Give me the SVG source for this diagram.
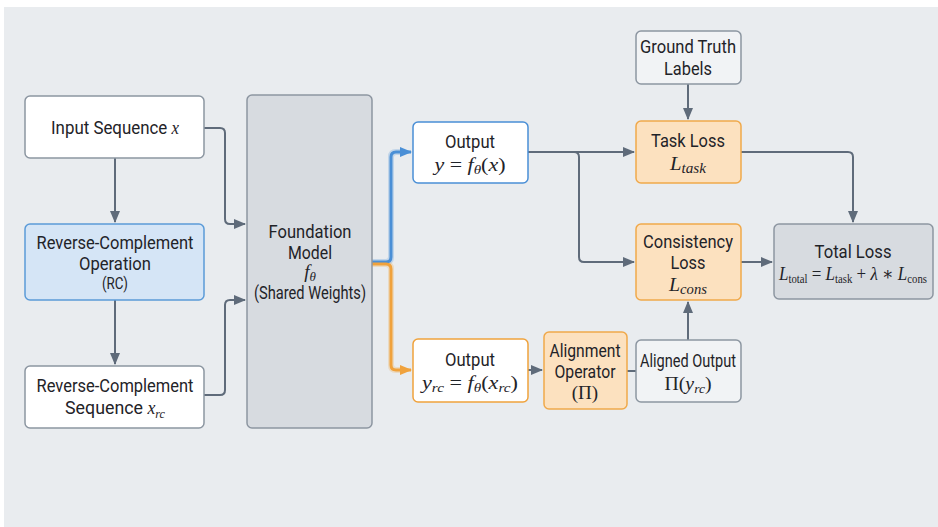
<svg xmlns="http://www.w3.org/2000/svg" width="938" height="527" viewBox="0 0 938 527">
<style>
.lbl{font-family:Roboto,"Liberation Sans",sans-serif;font-size:19px;fill:#1f2328;text-anchor:middle}
.sm{font-size:17px}
.m{font-family:"Liberation Serif","DejaVu Serif",serif;font-style:italic}
.up{font-style:normal}
.node{stroke-width:1.5}
.wht{fill:#ffffff;stroke:#8c96a1}
.org{fill:#fce1bf;stroke:#f0a94b}
.gry{fill:#d7dbe0;stroke:#8d96a1}
.lgt{fill:#f1f3f5;stroke:#8c96a1}
.conn{fill:none;stroke:#5f6b7a;stroke-width:2}
</style>
<defs>
<marker id="ah" markerUnits="userSpaceOnUse" markerWidth="12" markerHeight="12" viewBox="0 0 12 12" refX="11" refY="6" orient="auto">
<path d="M0,1 L12,6 L0,11 Z" fill="#5f6b7a"/>
</marker>
<marker id="ahb" markerUnits="userSpaceOnUse" markerWidth="12" markerHeight="12" viewBox="0 0 12 12" refX="11" refY="6" orient="auto">
<path d="M0,1 L12,6 L0,11 Z" fill="#4a8fd6"/>
</marker>
<marker id="aho" markerUnits="userSpaceOnUse" markerWidth="12" markerHeight="12" viewBox="0 0 12 12" refX="11" refY="6" orient="auto">
<path d="M0,1 L12,6 L0,11 Z" fill="#f0a23c"/>
</marker>
</defs>
<rect x="0" y="0" width="938" height="527" fill="#ffffff"/>
<rect x="4" y="7" width="934" height="520" fill="#e9ecef"/>

<g id="connectors">
<path class="conn" d="M115,158 V222" marker-end="url(#ah)"/>
<path class="conn" d="M115,300 V364" marker-end="url(#ah)"/>
<path class="conn" d="M204,128 H220 Q225,128 225,133 V219 Q225,224 230,224 H245" marker-end="url(#ah)"/>
<path class="conn" d="M204,395 H220 Q225,395 225,390 V305 Q225,300 230,300 H245" marker-end="url(#ah)"/>
<path d="M372,262 H386 Q391,262 391,257 V157 Q391,152 396,152 H405" fill="none" stroke="#4a8fd6" stroke-width="6" stroke-opacity="0.25"/>
<path d="M372,264 H386 Q391,264 391,269 V365 Q391,370 396,370 H405" fill="none" stroke="#f0a23c" stroke-width="6" stroke-opacity="0.25"/>
<path d="M372,262 H386 Q391,262 391,257 V157 Q391,152 396,152 H411" fill="none" stroke="#4a8fd6" stroke-width="3" marker-end="url(#ahb)"/>
<path d="M372,264 H386 Q391,264 391,269 V365 Q391,370 396,370 H411" fill="none" stroke="#f0a23c" stroke-width="3" marker-end="url(#aho)"/>
<path class="conn" d="M528,152 H634" marker-end="url(#ah)"/>
<path class="conn" d="M574,152 Q579,152 579,157 V257 Q579,262 584,262 H634" marker-end="url(#ah)"/>
<path class="conn" d="M528,370 H542" marker-end="url(#ah)"/>
<path class="conn" d="M627,371 H636"/>
<path class="conn" d="M688,84 V119" marker-end="url(#ah)"/>
<path class="conn" d="M741,152 H848 Q853,152 853,157 V222" marker-end="url(#ah)"/>
<path class="conn" d="M741,262 H772" marker-end="url(#ah)"/>
<path class="conn" d="M688,340 V302" marker-end="url(#ah)"/>
</g>

<g id="input-seq">
<rect class="node wht" x="25" y="96" width="179" height="62" rx="5"/>
<text class="lbl" x="115" y="134" textLength="128" lengthAdjust="spacingAndGlyphs">Input Sequence <tspan class="m">x</tspan></text>
</g>

<g id="rc-op">
<rect class="node" x="25" y="224" width="179" height="76" rx="5" fill="#d5e5f6" stroke="#5b9bd8" stroke-width="2"/>
<text class="lbl" x="115" y="249" textLength="157" lengthAdjust="spacingAndGlyphs">Reverse-Complement</text>
<text class="lbl" x="115" y="270" textLength="72" lengthAdjust="spacingAndGlyphs">Operation</text>
<text class="lbl sm" x="115" y="289" textLength="26" lengthAdjust="spacingAndGlyphs">(RC)</text>
</g>

<g id="rc-seq">
<rect class="node wht" x="25" y="366" width="179" height="62" rx="5"/>
<text class="lbl" x="115" y="392" textLength="157" lengthAdjust="spacingAndGlyphs">Reverse-Complement</text>
<text class="lbl" x="115" y="414" textLength="100" lengthAdjust="spacingAndGlyphs">Sequence <tspan class="m">x<tspan font-size="13" dy="4">rc</tspan></tspan></text>
</g>

<g id="foundation">
<rect class="node gry" x="247" y="95" width="125" height="333" rx="5"/>
<text class="lbl" x="310" y="238" textLength="83" lengthAdjust="spacingAndGlyphs">Foundation</text>
<text class="lbl" x="310" y="259" textLength="44" lengthAdjust="spacingAndGlyphs">Model</text>
<text class="lbl m" x="310" y="278" font-size="20">f<tspan font-size="13" dy="3">θ</tspan></text>
<text class="lbl" x="310" y="299" textLength="112" lengthAdjust="spacingAndGlyphs">(Shared Weights)</text>
</g>

<g id="output-y">
<rect class="node" x="413" y="122" width="115" height="61" rx="5" fill="#ffffff" stroke="#4a8fd6" stroke-width="2"/>
<text class="lbl" x="470" y="148" textLength="50" lengthAdjust="spacingAndGlyphs">Output</text>
<text class="lbl m" x="470" y="171" font-size="20" textLength="71" lengthAdjust="spacingAndGlyphs">y <tspan class="up">=</tspan> f<tspan font-size="13" dy="3">θ</tspan><tspan dy="-3" class="up">(</tspan>x<tspan class="up">)</tspan></text>
</g>

<g id="output-yrc">
<rect class="node" x="413" y="339" width="115" height="63" rx="5" fill="#ffffff" stroke="#f0a23c" stroke-width="2"/>
<text class="lbl" x="470" y="366" textLength="50" lengthAdjust="spacingAndGlyphs">Output</text>
<text class="lbl m" x="470" y="389" font-size="20" textLength="96" lengthAdjust="spacingAndGlyphs">y<tspan font-size="13" dy="3">rc</tspan><tspan dy="-3" class="up"> = </tspan>f<tspan font-size="13" dy="3">θ</tspan><tspan dy="-3" class="up">(</tspan>x<tspan font-size="13" dy="3">rc</tspan><tspan dy="-3" class="up">)</tspan></text>
</g>

<g id="alignment">
<rect class="node org" x="544" y="332" width="83" height="77" rx="5"/>
<text class="lbl" x="585" y="357" textLength="71" lengthAdjust="spacingAndGlyphs">Alignment</text>
<text class="lbl" x="585" y="378" textLength="61" lengthAdjust="spacingAndGlyphs">Operator</text>
<text class="lbl" x="585" y="399"><tspan font-family="Liberation Serif,serif">(Π)</tspan></text>
</g>

<g id="aligned-output">
<rect class="node lgt" x="636" y="340" width="105" height="62" rx="5"/>
<text class="lbl" x="688" y="367" textLength="96" lengthAdjust="spacingAndGlyphs">Aligned Output</text>
<text class="lbl m" x="688" y="390" font-size="20" textLength="47" lengthAdjust="spacingAndGlyphs"><tspan class="up">Π(</tspan>y<tspan font-size="13" dy="3">rc</tspan><tspan dy="-3" class="up">)</tspan></text>
</g>

<g id="ground-truth">
<rect class="node lgt" x="636" y="31" width="105" height="53" rx="5"/>
<text class="lbl" x="688" y="53" textLength="96" lengthAdjust="spacingAndGlyphs">Ground Truth</text>
<text class="lbl" x="688" y="75" textLength="48" lengthAdjust="spacingAndGlyphs">Labels</text>
</g>

<g id="task-loss">
<rect class="node org" x="636" y="121" width="105" height="62" rx="5"/>
<text class="lbl" x="688" y="147" textLength="74" lengthAdjust="spacingAndGlyphs">Task Loss</text>
<text class="lbl m" x="688" y="170" font-size="20" textLength="36" lengthAdjust="spacingAndGlyphs">L<tspan font-size="14" dy="3">task</tspan></text>
</g>

<g id="consistency-loss">
<rect class="node org" x="636" y="224" width="105" height="76" rx="5"/>
<text class="lbl" x="688" y="248" textLength="90" lengthAdjust="spacingAndGlyphs">Consistency</text>
<text class="lbl" x="688" y="269" textLength="35" lengthAdjust="spacingAndGlyphs">Loss</text>
<text class="lbl m" x="688" y="291" font-size="20" textLength="38" lengthAdjust="spacingAndGlyphs">L<tspan font-size="14" dy="3">cons</tspan></text>
</g>

<g id="total-loss">
<rect class="node gry" x="774" y="224" width="159" height="75" rx="5"/>
<text class="lbl" x="853" y="258" font-size="20" textLength="77" lengthAdjust="spacingAndGlyphs">Total Loss</text>
<text class="lbl m" x="853" y="280" font-size="17" textLength="148" lengthAdjust="spacingAndGlyphs">L<tspan class="up" font-size="12" dy="3">total</tspan><tspan class="up" dy="-3"> = </tspan>L<tspan class="up" font-size="12" dy="3">task</tspan><tspan class="up" dy="-3"> + </tspan>λ<tspan class="up"> ∗ </tspan>L<tspan class="up" font-size="12" dy="3">cons</tspan></text>
</g>
</svg>
